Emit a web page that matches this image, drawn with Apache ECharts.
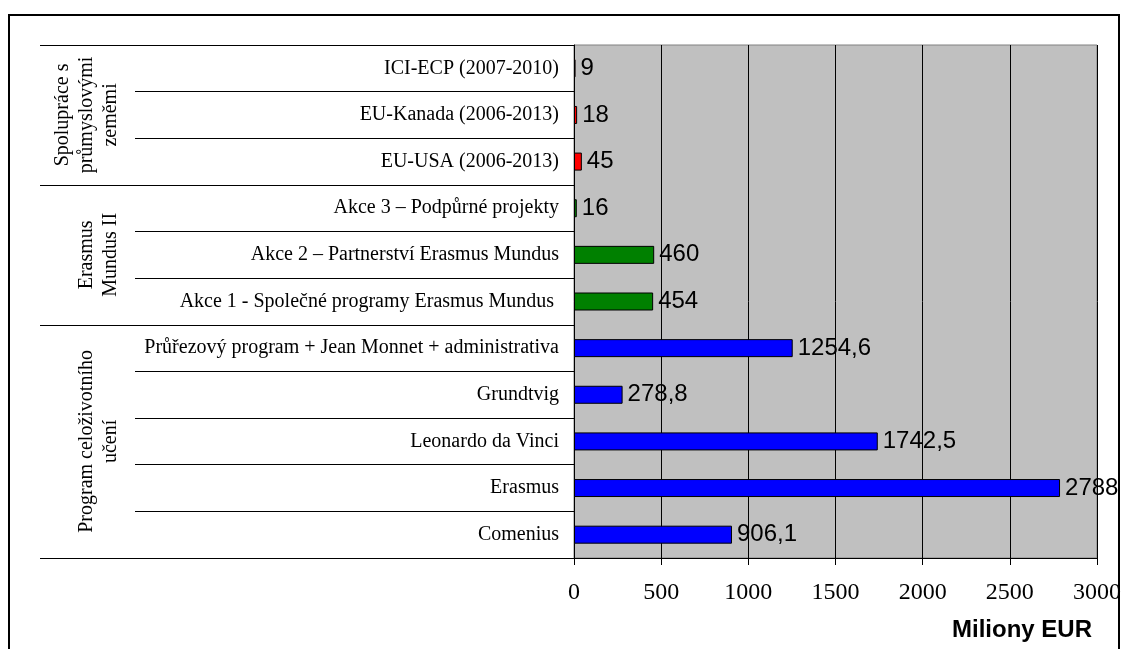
<!DOCTYPE html>
<html>
<head>
<meta charset="UTF-8">
<title></title>
<script src="https://cdn.jsdelivr.net/npm/echarts@6/dist/echarts.min.js"></script>
<style>
	html, body {
		width: 100%;
		height: 100%;
		margin: 0;
		padding: 0;
		background: #ffffff;
	}
	#chart {
		width: 1123px;
		height: 649px;
	}
</style>
</head>
<body>
<div id="chart"></div>
<script>
	// bottom to top, as drawn
	var categories = [
		'Comenius',
		'Erasmus',
		'Leonardo da Vinci',
		'Grundtvig',
		'Průřezový program + Jean Monnet + administrativa',
		'Akce 1 - Společné programy Erasmus Mundus ',
		'Akce 2 – Partnerství Erasmus Mundus',
		'Akce 3 – Podpůrné projekty',
		'EU-USA (2006-2013)',
		'EU-Kanada (2006-2013)',
		'ICI-ECP (2007-2010)'
	];
	var values = [906.1, 2788, 1742.5, 278.8, 1254.6, 454, 460, 16, 45, 18, 9];

	var groupNames = ['Program celoživotního\nučení', 'Erasmus\nMundus II', 'Spolupráce s\nprůmyslovými\nzeměmi'];
	var groupStart = [0, 5, 8];
	var groupSize = [5, 3, 3];
	var groupColors = ['#0000FF', '#008000', '#FF0000'];

	var xTicks = [0, 500, 1000, 1500, 2000, 2500, 3000];

	var serif = "'Liberation Serif', 'Times New Roman', serif";
	var sans = "'Liberation Sans', Arial, sans-serif";

	function groupOf(i) {
		for (var g = groupStart.length - 1; g >= 0; g--) {
			if (i >= groupStart[g]) return g;
		}
		return 0;
	}

	var barData = values.map(function (v, i) {
		return {
			value: v,
			itemStyle: { color: groupColors[groupOf(i)] }
		};
	});

	var chart = echarts.init(document.getElementById('chart'));

	var option = {
		animation: false,
		backgroundColor: '#ffffff',
		title: {
			text: 'Miliony EUR',
			right: 31,
			top: 618,
			padding: 0,
			textStyle: {
				fontFamily: sans,
				fontSize: 24,
				fontWeight: 'bold',
				color: '#000'
			}
		},
		graphic: [{
			type: 'rect',
			shape: { x: 9, y: 15, width: 1110, height: 700 },
			style: { fill: null, stroke: '#000', lineWidth: 2 },
			silent: true
		}],
		grid: [{
			left: 574, right: 26, top: 45, bottom: 91,
			outerBoundsMode: 'none',
			show: true,
			backgroundColor: '#C0C0C0',
			borderColor: '#808080',
			borderWidth: 1
		}, {
			left: 135, right: 549, top: 45, bottom: 91,
			outerBoundsMode: 'none'
		}, {
			left: 40, right: 549, top: 45, bottom: 91,
			outerBoundsMode: 'none'
		}],
		xAxis: [{
			gridIndex: 0,
			type: 'value',
			min: xTicks[0],
			max: xTicks[xTicks.length - 1],
			interval: xTicks[1] - xTicks[0],
			axisLine: { show: true, lineStyle: { color: '#000', width: 1 } },
			axisTick: { show: true, length: 7, lineStyle: { color: '#000' } },
			axisLabel: {
				margin: 23,
				fontFamily: serif,
				fontSize: 24,
				color: '#000',
				formatter: function (v) { return String(v); }
			},
			splitLine: { show: true, lineStyle: { color: '#000', width: 1 } }
		}, {
			gridIndex: 1, type: 'value', min: 0, max: 1, show: false
		}, {
			gridIndex: 2, type: 'value', min: 0, max: 1, show: false
		}],
		yAxis: [{
			gridIndex: 0,
			type: 'category',
			data: categories,
			axisLine: { show: true, lineStyle: { color: '#000', width: 1 } },
			axisTick: { show: false },
			axisLabel: {
				interval: 0,
				margin: 15,
				fontFamily: serif,
				fontSize: 20,
				color: '#000'
			},
			splitLine: { show: false }
		}, {
			gridIndex: 1,
			type: 'category',
			data: categories,
			axisLine: { show: false },
			axisTick: { show: false },
			axisLabel: {
				interval: 0,
				rotate: 90,
				margin: 12,
				fontFamily: serif,
				fontSize: 20,
				lineHeight: 24,
				color: '#000',
				formatter: function (value, index) {
					for (var g = 0; g < groupNames.length; g++) {
						if (index === groupStart[g] + (groupSize[g] - 1) / 2) return groupNames[g];
					}
					return '';
				}
			},
			splitLine: { show: true, interval: 0, lineStyle: { color: '#000', width: 1 } }
		}, {
			gridIndex: 2,
			type: 'category',
			data: categories,
			axisLine: { show: false },
			axisTick: { show: false },
			axisLabel: { show: false },
			splitLine: {
				show: true,
				interval: function (index) {
					return groupStart.indexOf(index) >= 0;
				},
				lineStyle: { color: '#000', width: 1 }
			}
		}],
		series: [{
			type: 'bar',
			xAxisIndex: 0,
			yAxisIndex: 0,
			data: barData,
			barWidth: 18,
			itemStyle: { borderColor: '#000', borderWidth: 1 },
			label: {
				show: true,
				position: 'right',
				distance: 5,
				fontFamily: sans,
				fontSize: 24,
				color: '#000',
				formatter: function (p) {
					return String(p.value).replace('.', ',');
				}
			}
		}]
	};

	chart.setOption(option);
</script>
</body>
</html>
